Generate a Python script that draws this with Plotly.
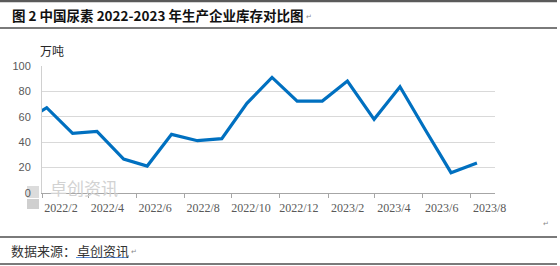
import plotly.graph_objects as go

# ---- data ----
dates = ["2022-01-06", "2022-02-07", "2022-03-12", "2022-04-12", "2022-05-16", "2022-06-15",
         "2022-07-16", "2022-08-18", "2022-09-18", "2022-10-20", "2022-11-21", "2022-12-23",
         "2023-01-24", "2023-02-25", "2023-03-31", "2023-05-03", "2023-06-04", "2023-07-07",
         "2023-08-09"]
inventory = [55.0, 67.2, 47.0, 48.5, 26.7, 21.2, 46.2, 41.2, 42.8, 70.6, 91.0, 72.4,
             72.4, 88.2, 58.0, 83.7, 50.0, 16.0, 23.7]

title_text = "图 2 中国尿素 2022-2023 年生产企业库存对比图"
unit_text = "万吨"
source_label = "数据来源："
source_name = "卓创资讯"
watermark = "卓创资讯"

# ---- layout geometry (pixels) ----
W, H = 560, 266
L, R, T, B = 42, 495, 66, 193
PW, PH = R - L, B - T


def px(x):
    return (x - L) / PW


def py(y):
    return (B - y) / PH


fig = go.Figure()
fig.add_trace(go.Scatter(
    x=dates, y=inventory, mode="lines",
    line=dict(color="#0070C0", width=3.2),
    hoverinfo="skip", showlegend=False,
))

shapes = []
# horizontal rules of the document frame
for yy, w, c in [(1, 2.5, "#5a5a5a"), (28, 2, "#7a7a7a"), (237, 2, "#7a7a7a"), (264, 2, "#7a7a7a")]:
    shapes.append(dict(type="line", xref="paper", yref="paper",
                       x0=px(0), x1=px(557), y0=py(yy), y1=py(yy),
                       line=dict(color=c, width=w), layer="above"))
# watermark logo squares
shapes.append(dict(type="rect", xref="paper", yref="paper",
                   x0=px(27), x1=px(39), y0=py(198), y1=py(186),
                   fillcolor="#dcdcdc", line=dict(width=0), layer="below"))
shapes.append(dict(type="rect", xref="paper", yref="paper",
                   x0=px(27), x1=px(39), y0=py(209), y1=py(199),
                   fillcolor="#cfcfcf", line=dict(width=0), layer="below"))
# spell-check style underline under the source name
shapes.append(dict(type="line", xref="paper", yref="paper",
                   x0=px(76), x1=px(128), y0=py(257.5), y1=py(257.5),
                   line=dict(color="#5b8bd6", width=1.2)))

annotations = [
    dict(text="<b>" + title_text + "</b>", x=px(10), y=py(15), xref="paper", yref="paper",
         xanchor="left", yanchor="middle", showarrow=False,
         font=dict(family="Noto Sans CJK SC", size=13.5, color="#111111")),
    dict(text="↵", x=px(304), y=py(17), xref="paper", yref="paper",
         xanchor="left", yanchor="middle", showarrow=False,
         font=dict(family="DejaVu Sans", size=7, color="#888888")),
    dict(text=unit_text, x=px(38), y=py(50.5), xref="paper", yref="paper",
         xanchor="left", yanchor="middle", showarrow=False,
         font=dict(family="Noto Sans CJK SC", size=12, color="#262626")),
    dict(text=watermark, x=px(48), y=py(187), xref="paper", yref="paper",
         xanchor="left", yanchor="middle", showarrow=False,
         font=dict(family="Noto Sans CJK SC", size=17, color="#d2d2d2")),
    dict(text="↵", x=px(541), y=py(224), xref="paper", yref="paper",
         xanchor="left", yanchor="middle", showarrow=False,
         font=dict(family="DejaVu Sans", size=7, color="#888888")),
    dict(text=source_label, x=px(9), y=py(250), xref="paper", yref="paper",
         xanchor="left", yanchor="middle", showarrow=False,
         font=dict(family="Noto Sans CJK SC", size=13, color="#333333")),
    dict(text=source_name, x=px(75), y=py(250), xref="paper", yref="paper",
         xanchor="left", yanchor="middle", showarrow=False,
         font=dict(family="Noto Sans CJK SC", size=13, color="#333333")),
    dict(text="↵", x=px(129), y=py(252), xref="paper", yref="paper",
         xanchor="left", yanchor="middle", showarrow=False,
         font=dict(family="DejaVu Sans", size=7, color="#888888")),
]

fig.update_layout(
    width=W, height=H,
    margin=dict(l=L, r=W - R, t=T, b=H - B, pad=0),
    paper_bgcolor="white", plot_bgcolor="white",
    shapes=shapes, annotations=annotations,
    showlegend=False,
)
fig.update_xaxes(
    type="date", range=["2022-02-01", "2023-09-01"],
    tick0="2022-02-01", dtick="M2", tickformat="%Y/%-m",
    ticks="outside", ticklen=4, tickcolor="#a6a6a6", tickwidth=1,
    showline=True, linecolor="#a6a6a6", linewidth=1,
    showgrid=False, zeroline=False,
    ticklabelshift=19,
    tickfont=dict(family="Liberation Serif", size=12, color="#595959"),
)
fig.update_yaxes(
    range=[0, 100], dtick=20, tick0=0,
    showgrid=True, gridcolor="#d9d9d9", gridwidth=1,
    showline=True, linecolor="#d0d0d0", linewidth=1,
    ticks="", zeroline=False, ticklabelstandoff=8,
    tickfont=dict(family="Liberation Sans", size=11, color="#595959"),
)

fig.write_html("out.html")
